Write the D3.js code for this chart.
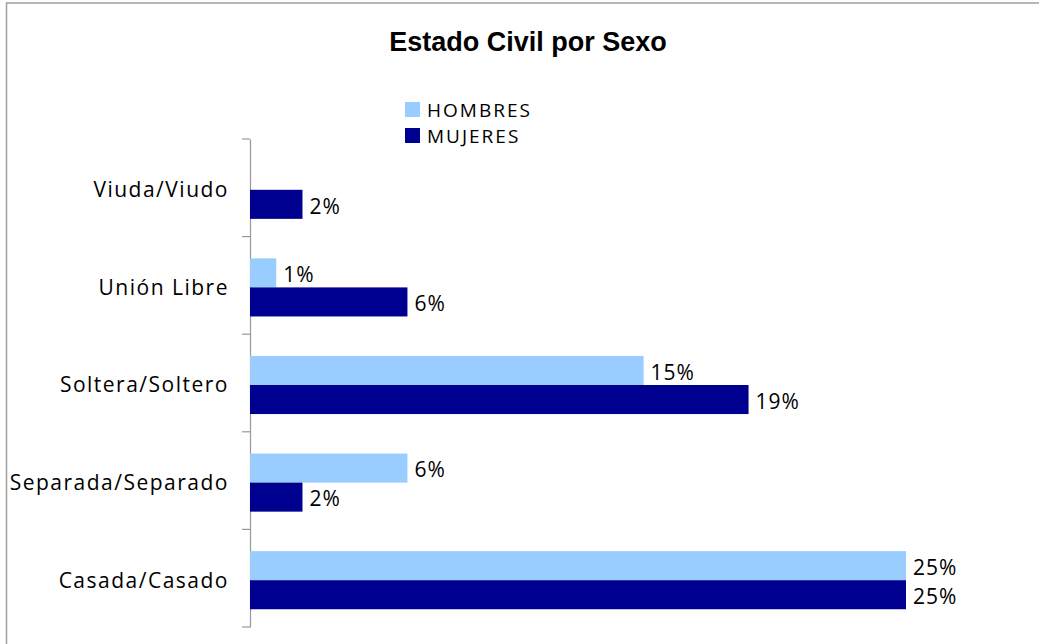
<!DOCTYPE html>
<html>
<head>
<meta charset="utf-8">
<script src="https://cdn.jsdelivr.net/npm/d3@7"></script>
<style>
  body { margin: 0; background: #fff; }
  text { fill: #000; }
</style>
</head>
<body>
<div id="chart"></div>
<script>
// Chart data
var categories = ["Viuda/Viudo", "Unión Libre", "Soltera/Soltero", "Separada/Separado", "Casada/Casado"];
var seriesNames = ["HOMBRES", "MUJERES"];
var hombres = [0, 1, 15, 6, 25];
var mujeres = [2, 6, 19, 2, 25];
var seriesColors = ["#99CCFF", "#000090"];

var svgWidth = 1039;
var svgHeight = 644;

var chartMargin = { top: 139, left: 250, bottom: 17 };
var plotWidth = 656;   // width of the 0-25% span
var chartHeight = svgHeight - chartMargin.top - chartMargin.bottom;

var svg = d3.select("#chart")
  .append("svg")
  .attr("width", svgWidth)
  .attr("height", svgHeight);

// outer frame
svg.append("rect")
  .attr("x", 6.5)
  .attr("y", 3)
  .attr("width", svgWidth + 10)
  .attr("height", svgHeight + 10)
  .attr("fill", "none")
  .attr("stroke", "#a0a0a0")
  .attr("stroke-width", 1.5);

// title
svg.append("text")
  .attr("x", 528)
  .attr("y", 51)
  .attr("text-anchor", "middle")
  .style("font-family", "Liberation Sans, Arial, sans-serif")
  .style("font-weight", "bold")
  .style("font-size", "27px")
  .text("Estado Civil por Sexo");

var chartGroup = svg.append("g")
  .attr("transform", `translate(${chartMargin.left}, ${chartMargin.top})`);

var yScale = d3.scaleBand()
  .domain(categories)
  .range([0, chartHeight])
  .paddingInner(0)
  .paddingOuter(0);

var inner = d3.scaleBand()
  .domain(seriesNames)
  .range([2, yScale.bandwidth() + 2])
  .paddingInner(0)
  .paddingOuter(0.68);

var xScale = d3.scaleLinear()
  .domain([0, 25])
  .range([0, plotWidth]);

// left axis line with ticks at category boundaries
var leftAxis = d3.axisLeft(yScale).tickSize(0).tickFormat("");
chartGroup.append("g")
  .call(leftAxis)
  .call(g => g.select(".domain").attr("stroke", "#999").attr("stroke-width", 1.2));

var boundaries = d3.range(categories.length + 1).map(i => i * yScale.step());
chartGroup.selectAll(".bound")
  .data(boundaries)
  .enter()
  .append("line")
  .attr("class", "bound")
  .attr("x1", -8)
  .attr("x2", 0)
  .attr("y1", d => d)
  .attr("y2", d => d)
  .attr("stroke", "#999")
  .attr("stroke-width", 1.2);

// category labels
chartGroup.selectAll(".cat")
  .data(categories)
  .enter()
  .append("text")
  .attr("class", "cat")
  .attr("x", -21)
  .attr("y", d => yScale(d) + yScale.bandwidth() / 2 + 2)
  .attr("dy", "0.35em")
  .attr("text-anchor", "end")
  .style("font-family", "Open Sans, sans-serif")
  .style("font-size", "21px")
  .style("letter-spacing", "1.5px")
  .text(d => d);

var rows = [];
categories.forEach(function(c, i) {
  rows.push({ cat: c, series: "HOMBRES", value: hombres[i], color: seriesColors[0] });
  rows.push({ cat: c, series: "MUJERES", value: mujeres[i], color: seriesColors[1] });
});

chartGroup.selectAll(".bar")
  .data(rows.filter(d => d.value > 0))
  .enter()
  .append("rect")
  .attr("class", "bar")
  .attr("x", 0)
  .attr("y", d => yScale(d.cat) + inner(d.series))
  .attr("width", d => xScale(d.value))
  .attr("height", inner.bandwidth())
  .attr("fill", d => d.color);

chartGroup.selectAll(".val")
  .data(rows.filter(d => d.value > 0))
  .enter()
  .append("text")
  .attr("class", "val")
  .attr("x", d => xScale(d.value) + 7)
  .attr("y", d => yScale(d.cat) + inner(d.series) + inner.bandwidth() / 2 + 2)
  .attr("dy", "0.35em")
  .style("font-family", "Open Sans, sans-serif")
  .style("font-size", "21px")
  .style("letter-spacing", "1px")
  .text(d => d.value + "%");

// legend
var legend = svg.append("g")
  .attr("transform", "translate(405, 102)");

var legendItem = legend.selectAll(".leg")
  .data(seriesNames)
  .enter()
  .append("g")
  .attr("class", "leg")
  .attr("transform", (d, i) => `translate(0, ${i * 26})`);

legendItem.append("rect")
  .attr("width", 15)
  .attr("height", 15)
  .attr("fill", (d, i) => seriesColors[i]);

legendItem.append("text")
  .attr("x", 22)
  .attr("y", 8)
  .attr("dy", "0.35em")
  .style("font-family", "Open Sans, sans-serif")
  .style("font-size", "19px")
  .style("letter-spacing", "2px")
  .text(d => d);
</script>
</body>
</html>
